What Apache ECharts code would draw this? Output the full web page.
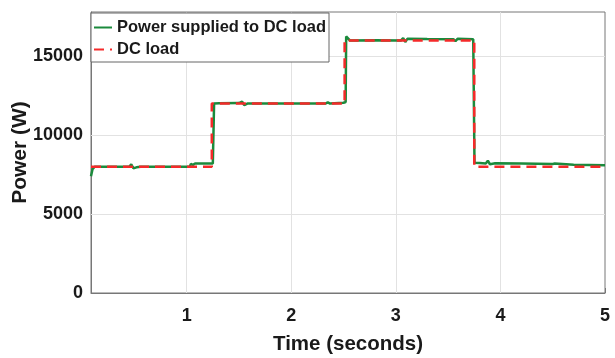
<!DOCTYPE html>
<html><head><meta charset="utf-8">
<script src="https://cdn.jsdelivr.net/npm/echarts@6/dist/echarts.min.js"></script>
<style>html,body{margin:0;padding:0;background:#fff}#c{width:615px;height:358px}</style>
</head><body><div id="c"></div>
<script>
const xTicks = [1, 2, 3, 4, 5];
const yTicks = [0, 5000, 10000, 15000];
const seriesNames = ['Power supplied to DC load', 'DC load'];
const supplied = [
  [0.085, 7400], [0.1, 7850], [0.12, 8000], [0.2, 8000], [0.3, 7990], [0.45, 8000], [0.47, 8150],
  [0.49, 7900], [0.52, 7960], [0.56, 8000], [0.8, 8000], [1.0, 8000], [1.03, 8020], [1.04, 8180],
  [1.06, 8120], [1.08, 8200], [1.15, 8210], [1.25, 8210], [1.255, 8300], [1.262, 12000],
  [1.28, 12100], [1.31, 12020], [1.5, 12030], [1.53, 12120], [1.55, 11900], [1.58, 12000],
  [1.8, 12000], [2.1, 12010], [2.33, 12010], [2.35, 12080], [2.37, 12000], [2.5, 12050],
  [2.52, 12100], [2.525, 16250], [2.56, 16000], [2.8, 16010], [3.05, 16000], [3.07, 16150],
  [3.09, 15900], [3.11, 16100], [3.3, 16090], [3.55, 16080], [3.57, 15950], [3.59, 16100],
  [3.74, 16080], [3.752, 8250], [3.8, 8230], [3.86, 8200], [3.88, 8380], [3.9, 8150],
  [3.95, 8220], [4.2, 8200], [4.5, 8170], [4.52, 8200], [4.7, 8130], [5.0, 8100]
];
const dcLoad = [
  [0.085, 8000], [1.24, 8000], [1.24, 12000], [2.51, 12000], [2.51, 16000],
  [3.75, 16000], [3.75, 8000], [5.0, 8000]
];
const xMin = 0.085, xMax = 5, yMax = 17800;

const chart = echarts.init(document.getElementById('c'));
const FF = '"Liberation Sans", Arial, sans-serif';
const lblFont = {fontFamily: FF, fontWeight: 'bold', color: '#1a1a1a'};
chart.setOption({
  animation: false,
  grid: {left: 91, right: 10, top: 12, bottom: 65, show: true, borderColor: '#777', borderWidth: 1,
         containLabel: false, outerBoundsMode: 'none'},
  legend: {
    left: 91, top: 13, orient: 'vertical', itemWidth: 18, itemHeight: 10, itemGap: 5,
    padding: [6, 3, 4, 2], backgroundColor: '#fff', borderColor: '#666', borderWidth: 1,
    itemStyle: {opacity: 0},
    textStyle: Object.assign({fontSize: 16.5}, lblFont),
    data: seriesNames
  },
  xAxis: {
    type: 'value', min: xMin, max: xMax,
    name: 'Time (seconds)', nameLocation: 'middle', nameGap: 41, nameMoveOverlap: false,
    nameTextStyle: Object.assign({fontSize: 20.5}, lblFont),
    axisLine: {show: true, lineStyle: {color: '#777'}},
    axisTick: {show: true, inside: true, length: 5, customValues: xTicks, lineStyle: {color: '#777'}},
    axisLabel: Object.assign({fontSize: 18, margin: 14, customValues: xTicks, formatter: v => String(v)}, lblFont),
    splitLine: {show: false}
  },
  yAxis: {
    type: 'value', min: 0, max: yMax,
    name: 'Power (W)', nameLocation: 'middle', nameGap: 60, nameMoveOverlap: false,
    nameTextStyle: Object.assign({fontSize: 21}, lblFont),
    axisLine: {show: true, lineStyle: {color: '#777'}},
    axisTick: {show: true, inside: true, length: 5, customValues: yTicks, lineStyle: {color: '#777'}},
    axisLabel: Object.assign({fontSize: 18, margin: 8, customValues: yTicks, formatter: v => String(v)}, lblFont),
    splitLine: {show: false}
  },
  series: [
    {
      name: seriesNames[0], type: 'line', data: supplied, symbol: 'none', z: 3,
      lineStyle: {color: '#1b8a3c', width: 2.5}, itemStyle: {color: '#1b8a3c'},
      markLine: {
        silent: true, symbol: 'none', label: {show: false}, z: 1,
        lineStyle: {color: '#e2e2e2', width: 1, type: 'solid'},
        data: xTicks.slice(0, 4).map(v => ({xAxis: v})).concat(yTicks.slice(1).map(v => ({yAxis: v})))
      }
    },
    {
      name: seriesNames[1], type: 'line', data: dcLoad, symbol: 'none', z: 4,
      lineStyle: {color: '#f52a2a', width: 2.5, type: [10, 6]}, itemStyle: {color: '#f52a2a'}
    }
  ]
});
</script></body></html>
